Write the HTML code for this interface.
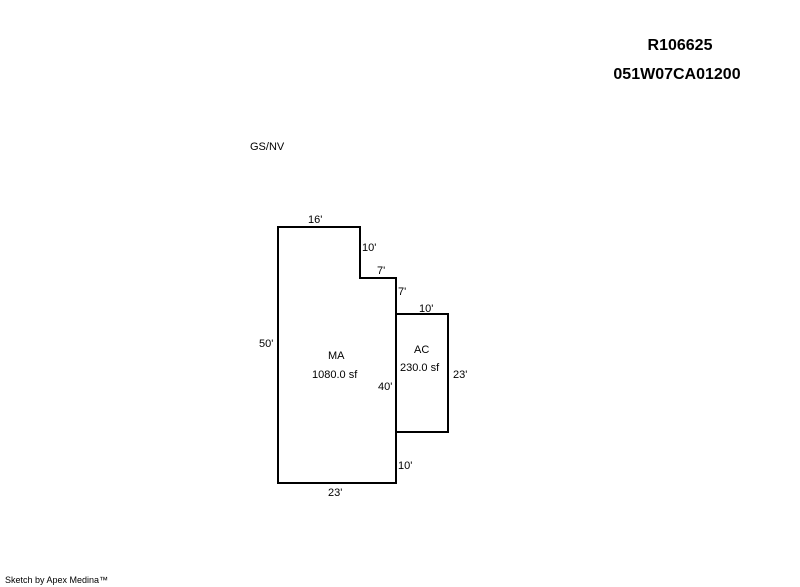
<!DOCTYPE html>
<html><head><style>
body{margin:0;width:800px;height:587px;background:#fff;overflow:hidden}
svg{display:block}
text{font-family:"Liberation Sans",sans-serif;fill:#000}
</style></head><body>
<svg width="800" height="587" viewBox="0 0 800 587">
<text x="680" y="50" font-size="16" font-weight="bold" text-anchor="middle">R106625</text>
<text x="677" y="79" font-size="16" font-weight="bold" text-anchor="middle">051W07CA01200</text>
<text x="250" y="150" font-size="11">GS/NV</text>
<g fill="none" stroke="#000" stroke-width="2">
<polygon points="278,227 360,227 360,278 396,278 396,483 278,483"/>
<polyline points="396,314 448,314 448,432 396,432"/>
</g>
<g font-size="11">
<text x="308" y="223">16'</text>
<text x="362" y="251">10'</text>
<text x="377" y="274">7'</text>
<text x="398" y="295">7'</text>
<text x="419" y="312">10'</text>
<text x="259" y="347">50'</text>
<text x="328" y="359">MA</text>
<text x="312" y="378">1080.0 sf</text>
<text x="378" y="390">40'</text>
<text x="414" y="353">AC</text>
<text x="400" y="371">230.0 sf</text>
<text x="453" y="378">23'</text>
<text x="398" y="469">10'</text>
<text x="328" y="496">23'</text>
</g>
<text x="5" y="583" font-size="9">Sketch by Apex Medina™</text>
</svg>
</body></html>
